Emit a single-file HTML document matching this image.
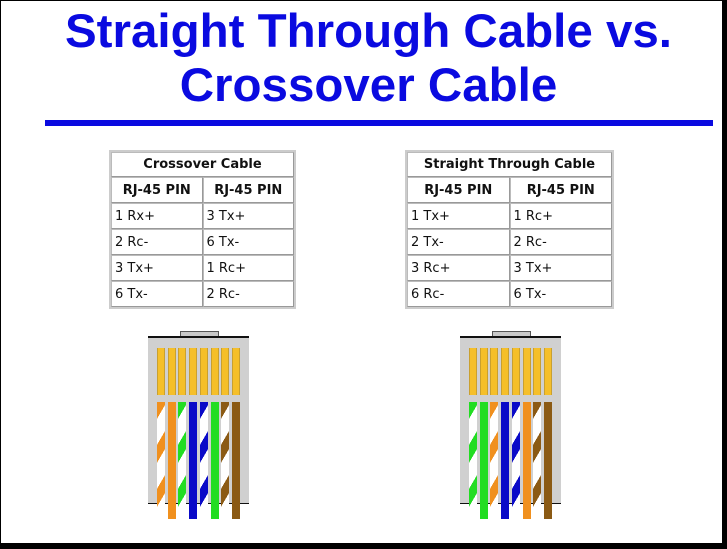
<!DOCTYPE html>
<html><head><style>
body{margin:0;width:727px;height:549px;overflow:hidden;background:#000;position:relative;font-family:"Liberation Sans",sans-serif}
#pg{position:absolute;left:1px;top:1px;width:721px;height:542px;background:#fff}
.t{position:absolute;left:0;width:737px;text-align:center;color:#0a0ae0;font-weight:bold;font-size:47.5px;white-space:nowrap}
.bar{position:absolute;left:45px;top:120px;width:668px;height:6px;background:#0a0ae0}
table{position:absolute;border-collapse:separate;border-spacing:0;border:2px solid #ccc;font-family:"DejaVu Sans",sans-serif;font-size:13px;color:#111}
td{border:1px solid #bbb;border-right-color:#999;border-bottom-color:#999;height:24px;padding:0 3px;white-space:nowrap}
td.h{text-align:center;font-weight:bold;}
.w{position:absolute;width:7px}
.pin{position:absolute;width:6px;top:348px;height:47px;background:#f5bf2a;border-left:1px solid #c9a030;border-right:1px solid #c9a030}
</style></head><body><div id="pg"></div>
<div class="t" style="top:4px">Straight Through Cable vs.</div>
<div class="t" style="top:58px">Crossover Cable</div>
<div class="bar"></div>
<table style="left:109px;top:150px;width:187px">
<tr><td colspan="2" class="h" style="height:23px">Crossover Cable</td></tr>
<tr><td class="h">RJ-45 PIN</td><td class="h">RJ-45 PIN</td></tr>
<tr><td>1 Rx+</td><td>3 Tx+</td></tr>
<tr><td>2 Rc-</td><td>6 Tx-</td></tr>
<tr><td>3 Tx+</td><td>1 Rc+</td></tr>
<tr><td>6 Tx-</td><td>2 Rc-</td></tr>
</table>
<table style="left:405px;top:150px;width:209px">
<tr><td colspan="2" class="h" style="height:23px">Straight Through Cable</td></tr>
<tr><td class="h">RJ-45 PIN</td><td class="h">RJ-45 PIN</td></tr>
<tr><td>1 Tx+</td><td>1 Rc+</td></tr>
<tr><td>2 Tx-</td><td>2 Rc-</td></tr>
<tr><td>3 Rc+</td><td>3 Tx+</td></tr>
<tr><td>6 Rc-</td><td>6 Tx-</td></tr>
</table>
<div id="c"></div>
<script>
var c=document.getElementById('c'),h='';
var O='#f0901e',G='#22dd22',B='#0a0ac8',N='#8b5a14';
function conn(x0,cols){
 h+='<div style="position:absolute;left:'+(x0+32)+'px;top:331px;width:37px;height:6px;background:#c8c8c8;border:1px solid #555;border-bottom:none"></div>';
 h+='<div style="position:absolute;left:'+x0+'px;top:336px;width:101px;height:165px;background:#d0d0d0;border-top:2px solid #111;border-bottom:1px solid #111"></div>';
 for(var i=0;i<8;i++){var x=x0+9+i*10.7;
  h+='<div class="pin" style="left:'+x+'px"></div>';
  var col=cols[i][0],st=cols[i][1];
  var bg=st?'repeating-linear-gradient(-60deg,#fff 0px,#fff 13px,'+col+' 13px,'+col+' 22px)':col;
  h+='<div class="w" style="left:'+x+'px;top:402px;height:117px;width:8px;background:'+bg+'"></div>';}
}
conn(148,[[O,1],[O,0],[G,1],[B,0],[B,1],[G,0],[N,1],[N,0]]);
conn(460,[[G,1],[G,0],[O,1],[B,0],[B,1],[O,0],[N,1],[N,0]]);
c.innerHTML=h;
</script>
</body></html>
